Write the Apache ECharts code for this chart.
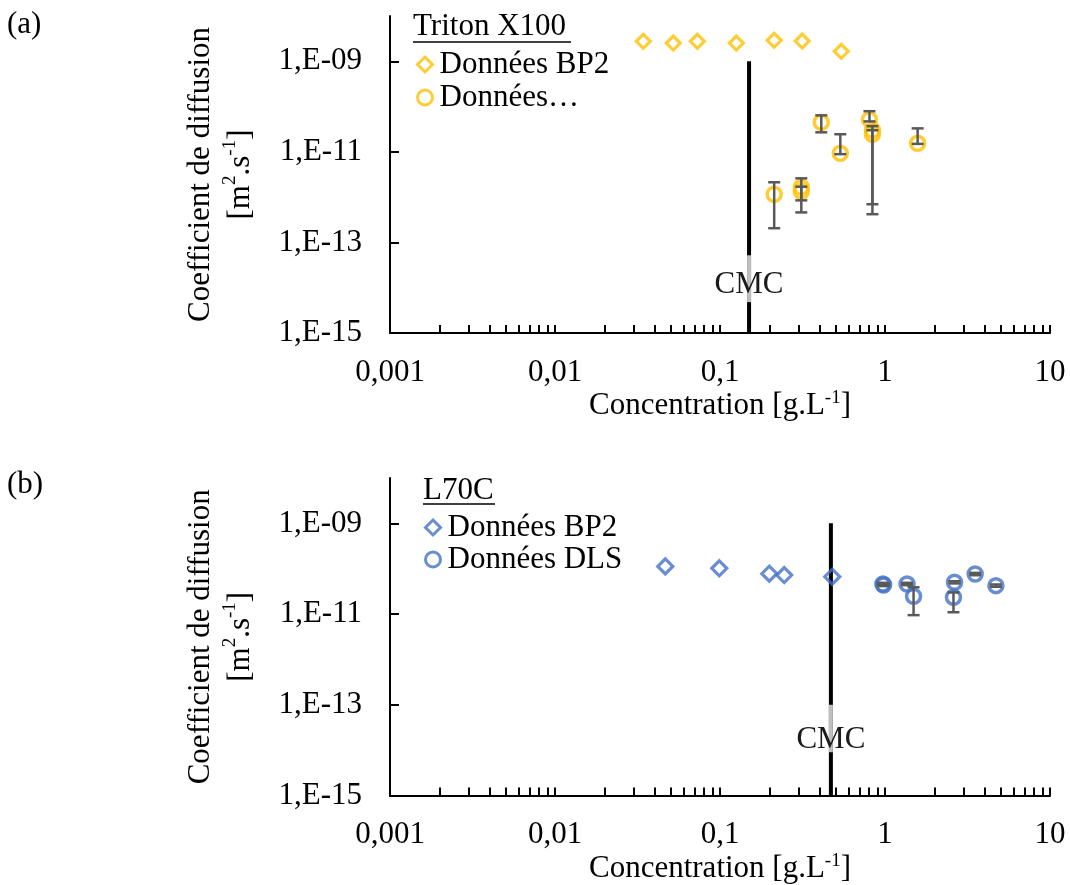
<!DOCTYPE html>
<html>
<head>
<meta charset="utf-8">
<script src="https://cdn.jsdelivr.net/npm/echarts@6/dist/echarts.min.js"></script>
<style>html,body{margin:0;padding:0;background:#fff}#c{width:1070px;height:885px}</style>
</head>
<body>
<div id="c"></div>
<script>
// ---------- data ----------
const xTickValues = [0.001, 0.01, 0.1, 1, 10];
const xTickLabels = ['0,001', '0,01', '0,1', '1', '10'];
const xMinorFactors = [2, 3, 4, 5, 6, 7, 8, 9];
const yTickValues = [1e-15, 1e-13, 1e-11, 1e-9];
const yTickLabels = ['1,E-15', '1,E-13', '1,E-11', '1,E-09'];

// (a) Triton X100
const tritonBP2Conc = [0.0343, 0.0521, 0.0729, 0.1256, 0.213, 0.315, 0.543];
const tritonBP2D    = [2.76e-9, 2.53e-9, 2.76e-9, 2.53e-9, 2.9e-9, 2.8e-9, 1.66e-9];
const tritonDLSConc = [0.213, 0.311, 0.311, 0.411, 0.536, 0.805, 0.839, 0.839, 1.577];
const tritonDLSD    = [1.16e-12, 1.65e-12, 1.35e-12, 4.5e-11, 9.3e-12, 5.2e-11, 3.0e-11, 2.45e-11, 1.55e-11];
const tritonDLSLow  = [2.06e-13, 8.5e-13, 4.6e-13, 2.7e-11, 8.9e-12, 4.7e-11, 6.97e-13, 4.2e-13, 1.5e-11];
const tritonDLSHigh = [2.13e-12, 2.6e-12, 1.7e-12, 6.4e-11, 2.45e-11, 7.9e-11, 3.7e-11, 3.0e-11, 3.3e-11];
const tritonCMC = 0.15;
// CMC marker extents for (a): [line top, line bottom, gray top, gray bottom, label]
const tritonCMCMarks = [1e-9, 1e-15, 5.2e-14, 4.8e-15, 1.15e-14];

// (b) L70C
const l70cBP2Conc = [0.0466, 0.099, 0.199, 0.245, 0.479];
const l70cBP2D    = [1.127e-10, 1.02e-10, 7.76e-11, 7.27e-11, 6.67e-11];
const l70cDLSConc = [0.971, 0.98, 1.36, 1.49, 2.64, 2.60, 3.52, 4.70];
const l70cDLSD    = [4.62e-11, 4.39e-11, 4.62e-11, 2.48e-11, 5.03e-11, 2.36e-11, 7.64e-11, 4.24e-11];
const l70cDLSLow  = [4.35e-11, 4.15e-11, 4.35e-11, 9.5e-12, 4.75e-11, 1.1e-11, 7.2e-11, 4.0e-11];
const l70cDLSHigh = [4.9e-11, 4.65e-11, 4.9e-11, 3.9e-11, 5.3e-11, 3.0e-11, 8.1e-11, 4.5e-11];
const l70cCMC = 0.47;
const l70cCMCMarks = [1e-9, 1e-15, 1.0e-13, 9e-15, 1.72e-14];

// ---------- styling ----------
const FONT = '"Liberation Serif", "Times New Roman", serif';
const ORANGE = '#FFC000';
const BLUE = '#4472C4';
const ERR = '#595959';
const FS = 31;

const xMinorTicks = [];
xTickValues.slice(0, -1).forEach(v => xMinorFactors.forEach(f => xMinorTicks.push(+(v * f).toPrecision(6))));
const xAllTicks = xTickValues.concat(xMinorTicks);

function lookup(vals, labels, v) {
  for (let i = 0; i < vals.length; i++) {
    if (Math.abs(Math.log10(v) - Math.log10(vals[i])) < 1e-6) return labels[i];
  }
  return '';
}

function zip2(a, b) { return a.map((v, i) => [v, b[i]]); }
function zip4(a, b, c, d) { return a.map((v, i) => [v, b[i], c[i], d[i]]); }

function errRender(params, api) {
  const x = api.value(0), lo = api.value(2), hi = api.value(3);
  const a = api.coord([x, hi]);
  const b = api.coord([x, lo]);
  const w = 6;
  const style = { stroke: ERR, lineWidth: 2.5, fill: null };
  return {
    type: 'group',
    children: [
      { type: 'line', shape: { x1: a[0], y1: a[1], x2: b[0], y2: b[1] }, style: style },
      { type: 'line', shape: { x1: a[0] - w, y1: a[1], x2: a[0] + w, y2: a[1] }, style: style },
      { type: 'line', shape: { x1: b[0] - w, y1: b[1], x2: b[0] + w, y2: b[1] }, style: style }
    ]
  };
}

function xAxisCfg(gi) {
  return {
    type: 'log', logBase: 10, gridIndex: gi, min: 0.001, max: 10,
    name: '{t|Concentration [g.L}{s|-1}{t|]}',
    nameLocation: 'middle', nameGap: 51,
    nameTextStyle: {
      rich: {
        t: { fontFamily: FONT, fontSize: FS, color: '#000', lineHeight: 34 },
        s: { fontFamily: FONT, fontSize: 19, color: '#000', lineHeight: 18, verticalAlign: 'top' }
      }
    },
    axisLine: { show: true, onZero: false, lineStyle: { color: '#000', width: 2 } },
    axisTick: { show: true, inside: true, length: 8, customValues: xAllTicks, lineStyle: { color: '#000', width: 2 } },
    axisLabel: {
      show: true, margin: 24, customValues: xTickValues,
      fontFamily: FONT, fontSize: FS, color: '#000', lineHeight: 31,
      formatter: v => lookup(xTickValues, xTickLabels, v)
    },
    splitLine: { show: false }, minorTick: { show: false }, minorSplitLine: { show: false }
  };
}

function yAxisCfg(gi) {
  return {
    type: 'log', logBase: 10, gridIndex: gi, min: 1e-15, max: 1e-8,
    name: '{t|Coefficient de diffusion}\n{t|[m}{s|2}{t|.s}{s|-1}{t|]}',
    nameLocation: 'middle', nameGap: 129, nameRotate: 90,
    nameTextStyle: {
      rich: {
        t: { fontFamily: FONT, fontSize: FS, color: '#000', lineHeight: 40 },
        s: { fontFamily: FONT, fontSize: 19, color: '#000', lineHeight: 22, verticalAlign: 'top' }
      }
    },
    axisLine: { show: true, onZero: false, lineStyle: { color: '#000', width: 2 } },
    axisTick: { show: true, inside: true, length: 9, customValues: yTickValues, lineStyle: { color: '#000', width: 2 } },
    axisLabel: {
      show: true, margin: 28, customValues: yTickValues,
      fontFamily: FONT, fontSize: FS, color: '#000',
      formatter: v => lookup(yTickValues, yTickLabels, v)
    },
    splitLine: { show: false }, minorTick: { show: false }, minorSplitLine: { show: false }
  };
}

function panelSeries(gi, color, bp2Name, dlsName, bp2X, bp2Y, dlsX, dlsY, dlsLo, dlsHi, cmc, marks, diamondSize) {
  return [
    {
      name: bp2Name, type: 'scatter', xAxisIndex: gi, yAxisIndex: gi,
      symbol: 'diamond', symbolSize: diamondSize, z: 3,
      itemStyle: { color: 'rgba(255,255,255,0)', borderColor: color, borderWidth: 3.2 },
      data: zip2(bp2X, bp2Y)
    },
    {
      name: dlsName, type: 'scatter', xAxisIndex: gi, yAxisIndex: gi,
      symbol: 'circle', symbolSize: 14, z: 3,
      itemStyle: { color: 'rgba(255,255,255,0)', borderColor: color, borderWidth: 3.5 },
      data: zip2(dlsX, dlsY)
    },
    {
      name: 'err' + gi, type: 'custom', xAxisIndex: gi, yAxisIndex: gi, z: 4,
      renderItem: errRender, encode: { x: 0, y: [2, 3] },
      data: zip4(dlsX, dlsY, dlsLo, dlsHi), silent: true
    },
    {
      name: 'cmc' + gi, type: 'line', xAxisIndex: gi, yAxisIndex: gi, z: 1,
      symbol: 'none', lineStyle: { color: '#000', width: 4 }, silent: true,
      data: [[cmc, marks[0]], [cmc, marks[1]]]
    },
    {
      name: 'cmcGray' + gi, type: 'line', xAxisIndex: gi, yAxisIndex: gi, z: 2,
      symbol: 'none', lineStyle: { color: '#BFBFBF', width: 4 }, silent: true,
      data: [[cmc, marks[2]], [cmc, marks[3]]]
    },
    {
      name: 'cmcLabel' + gi, type: 'scatter', xAxisIndex: gi, yAxisIndex: gi, z: 5,
      symbolSize: 0, silent: true,
      itemStyle: { opacity: 1 },
      label: { show: true, position: 'inside', formatter: 'CMC', fontFamily: FONT, fontSize: FS, color: '#1a1a1a', opacity: 1 },
      data: [[cmc, marks[4]]]
    }
  ];
}

const legendText = { fontFamily: FONT, fontSize: FS, color: '#000', padding: [0, 0, 0, 2], lineHeight: 31 };

const option = {
  animation: false,
  backgroundColor: '#fff',
  grid: [
    { left: 390, top: 16, width: 660, height: 317 },
    { left: 390, top: 478, width: 660, height: 319 }
  ],
  xAxis: [xAxisCfg(0), xAxisCfg(1)],
  yAxis: [yAxisCfg(0), yAxisCfg(1)],
  legend: [
    {
      orient: 'vertical', left: 411, top: 44, itemWidth: 15, itemHeight: 15, itemGap: 2,
      selectedMode: false, textStyle: legendText,
      data: [
        { name: 'Données BP2', icon: 'diamond', itemStyle: { color: 'rgba(255,255,255,0)', borderColor: ORANGE, borderWidth: 3 } },
        { name: 'Données…', icon: 'circle', itemStyle: { color: 'rgba(255,255,255,0)', borderColor: ORANGE, borderWidth: 3 } }
      ]
    },
    {
      orient: 'vertical', left: 419, top: 507, itemWidth: 15, itemHeight: 15, itemGap: 1,
      selectedMode: false, textStyle: legendText,
      data: [
        { name: 'Données BP2', icon: 'diamond', itemStyle: { color: 'rgba(255,255,255,0)', borderColor: BLUE, borderWidth: 3 } },
        { name: 'Données DLS', icon: 'circle', itemStyle: { color: 'rgba(255,255,255,0)', borderColor: BLUE, borderWidth: 3 } }
      ]
    }
  ],
  graphic: [
    { type: 'text', left: 7, top: 9, style: { text: '(a)', fontFamily: FONT, fontSize: FS, fill: '#000' } },
    { type: 'text', left: 7, top: 469, style: { text: '(b)', fontFamily: FONT, fontSize: FS, fill: '#000' } },
    { type: 'text', x: 413, y: 27, style: { text: 'Triton X100', fontFamily: FONT, fontSize: FS, fill: '#000', verticalAlign: 'middle' } },
    { type: 'line', shape: { x1: 413, y1: 42, x2: 571, y2: 42 }, style: { stroke: '#000', lineWidth: 1.5 } },
    { type: 'text', x: 423, y: 491, style: { text: 'L70C', fontFamily: FONT, fontSize: FS, fill: '#000', verticalAlign: 'middle' } },
    { type: 'line', shape: { x1: 423, y1: 504, x2: 495, y2: 504 }, style: { stroke: '#000', lineWidth: 1.5 } }
  ],
  series: [].concat(
    panelSeries(0, ORANGE, 'Données BP2', 'Données…', tritonBP2Conc, tritonBP2D,
      tritonDLSConc, tritonDLSD, tritonDLSLow, tritonDLSHigh, tritonCMC, tritonCMCMarks, 14),
    panelSeries(1, BLUE, 'Données BP2', 'Données DLS', l70cBP2Conc, l70cBP2D,
      l70cDLSConc, l70cDLSD, l70cDLSLow, l70cDLSHigh, l70cCMC, l70cCMCMarks, 15)
  )
};

const chart = echarts.init(document.getElementById('c'), null, { renderer: 'canvas' });
chart.setOption(option);
</script>
</body>
</html>
